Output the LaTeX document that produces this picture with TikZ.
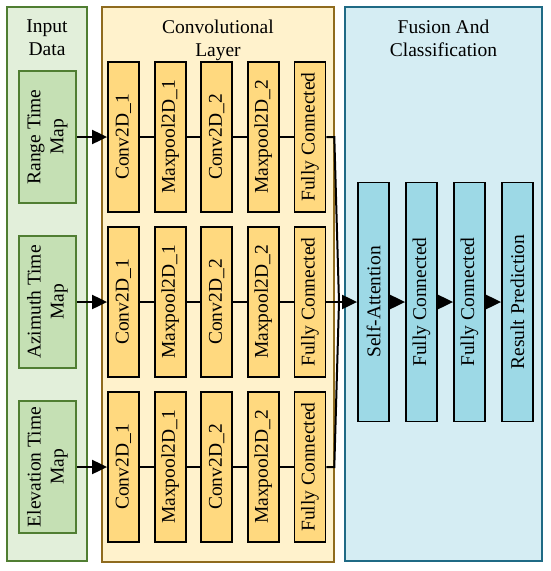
\documentclass[tikz,border=0pt]{standalone}
\usepackage{fontspec}
\setmainfont{Liberation Serif}
\usetikzlibrary{arrows.meta}

\definecolor{inbg}{HTML}{E2EFDA}
\definecolor{indark}{HTML}{507E32}
\definecolor{infill}{HTML}{C5E0B4}
\definecolor{convbg}{HTML}{FFF2CC}
\definecolor{convdark}{HTML}{8F6B1E}
\definecolor{convfill}{HTML}{FFD97F}
\definecolor{fusebg}{HTML}{D5EDF3}
\definecolor{fusedark}{HTML}{1F6A85}
\definecolor{fusefill}{HTML}{9DD9E6}

\begin{document}
\begin{tikzpicture}[
    x=1pt, y=-1pt,
    every node/.style={font=\fontsize{19.5}{23}\selectfont},
    panel/.style={rectangle, line width=2pt, inner sep=0pt},
    title/.style={align=center, anchor=north, inner sep=0pt},
    block/.style={rectangle, draw, rotate=90, line width=1.8pt,
                  inner sep=0pt, align=center},
    inblock/.style={block, draw=indark, fill=infill,
                    minimum width=132pt, minimum height=57pt},
    convblock/.style={block, draw=black, fill=convfill,
                      minimum width=150pt, minimum height=31pt},
    fuseblock/.style={block, draw=black, fill=fusefill,
                      minimum width=239pt, minimum height=31pt},
    arrow/.style={-{Triangle[length=15pt, width=14pt]}, line width=2pt},
    link/.style={line width=2pt}
]
    \useasboundingbox (0,0) rectangle (550,571);

    % panels
    \node[panel, draw=indark, fill=inbg, minimum width=80pt, minimum height=554pt] (inpanel) at (47,284) {};
    \node[panel, draw=convdark, fill=convbg, minimum width=232pt, minimum height=555pt] (convpanel) at (218,284.5) {};
    \node[panel, draw=fusedark, fill=fusebg, minimum width=197pt, minimum height=554pt] (fusepanel) at (443.5,284) {};

    \node[title] (intitle)   at (47,20)    {Input\\Data};
    \node[title] (convtitle) at (218,20)   {Convolutional\\Layer};
    \node[title] (fusetitle) at (443.5,20) {Fusion And\\Classification};

    % input maps
    \node[inblock] (range)     at (47.5,137) {Range Time\\Map};
    \node[inblock] (azimuth)   at (47.5,302) {Azimuth Time\\Map};
    \node[inblock] (elevation) at (47.5,467) {Elevation Time\\Map};

    % convolutional branches
    \node[convblock] (r1conv1) at (123.5,137) {Conv2D\_1};
    \node[convblock] (r1pool1) at (170.1,137) {Maxpool2D\_1};
    \node[convblock] (r1conv2) at (216.7,137) {Conv2D\_2};
    \node[convblock] (r1pool2) at (263.3,137) {Maxpool2D\_2};
    \node[convblock] (r1fc)    at (309.9,137) {Fully Connected};

    \node[convblock] (r2conv1) at (123.5,302) {Conv2D\_1};
    \node[convblock] (r2pool1) at (170.1,302) {Maxpool2D\_1};
    \node[convblock] (r2conv2) at (216.7,302) {Conv2D\_2};
    \node[convblock] (r2pool2) at (263.3,302) {Maxpool2D\_2};
    \node[convblock] (r2fc)    at (309.9,302) {Fully Connected};

    \node[convblock] (r3conv1) at (123.5,467) {Conv2D\_1};
    \node[convblock] (r3pool1) at (170.1,467) {Maxpool2D\_1};
    \node[convblock] (r3conv2) at (216.7,467) {Conv2D\_2};
    \node[convblock] (r3pool2) at (263.3,467) {Maxpool2D\_2};
    \node[convblock] (r3fc)    at (309.9,467) {Fully Connected};

    % fusion
    \node[fuseblock] (attn)   at (373.5,302) {Self-Attention};
    \node[fuseblock] (fc1)    at (421.5,302) {Fully Connected};
    \node[fuseblock] (fc2)    at (469.5,302) {Fully Connected};
    \node[fuseblock] (result) at (517.5,302) {Result Prediction};

    \coordinate (join) at (339,302);

    \draw[arrow] (range) -- (r1conv1);
    \draw[arrow] (azimuth) -- (r2conv1);
    \draw[arrow] (elevation) -- (r3conv1);

    \draw[link] (r1conv1) -- (r1pool1) -- (r1conv2) -- (r1pool2) -- (r1fc);
    \draw[link] (r2conv1) -- (r2pool1) -- (r2conv2) -- (r2pool2) -- (r2fc);
    \draw[link] (r3conv1) -- (r3pool1) -- (r3conv2) -- (r3pool2) -- (r3fc);

    \draw[link] (r1fc.south) -- ++(8,0) -- (join);
    \draw[link] (r3fc.south) -- ++(8,0) -- (join);
    \draw[link] (r2fc) -- (join);
    \draw[arrow] (join) -- (attn);

    \draw[arrow] (attn) -- (fc1);
    \draw[arrow] (fc1) -- (fc2);
    \draw[arrow] (fc2) -- (result);
\end{tikzpicture}
\end{document}
